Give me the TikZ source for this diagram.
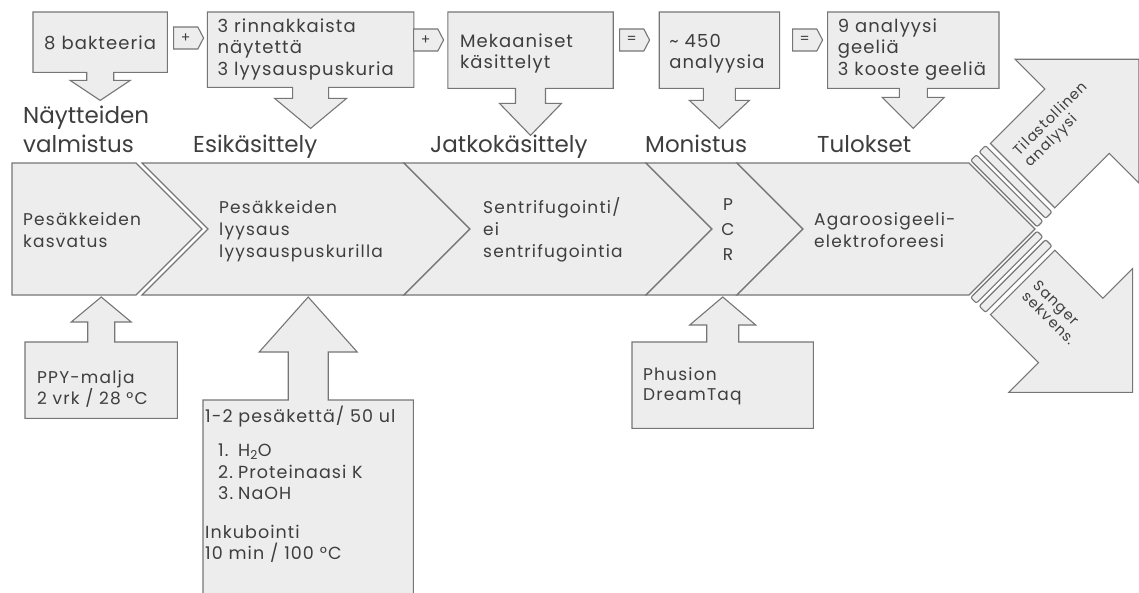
\documentclass[tikz,border=0pt]{standalone}
\usepackage{fontspec}
\setmainfont{Poppins}
\newfontfamily\boxfont{Poppins}[LetterSpace=6]
\newfontfamily\stagefont{Poppins}[LetterSpace=7]
\usetikzlibrary{shapes.symbols, positioning, calc, backgrounds}
\lefthyphenmin=62

\definecolor{panelfill}{RGB}{237,237,237}
\definecolor{panelline}{RGB}{118,118,118}
\definecolor{inktext}{RGB}{62,62,62}

\tikzset{
    infobox/.style={rectangle, draw=none, inner xsep=12pt, inner ysep=0pt, align=left, text width=#1, font=\boxfont\fontsize{18}{21.5}\selectfont, text=inktext},
    calloutline/.style={fill=panelfill, draw=panelline, line width=1.1pt},
    stagebody/.style={fill=panelfill, draw=panelline, line width=1.1pt, line join=miter},
    stagetext/.style={anchor=base west, align=left, inner sep=0pt, font=\stagefont\fontsize{17}{22}\selectfont, text=inktext},
    phaselabel/.style={anchor=base west, align=left, inner sep=0pt, font=\fontsize{23}{29}\selectfont, text=inktext},
    joiner/.style={signal, signal to=east, signal pointer angle=125, fill=panelfill, draw=panelline, line width=1.1pt, minimum width=30pt, minimum height=22pt, inner sep=0pt, font=\fontsize{14}{14}\selectfont, text=inktext},
    stripe/.style={fill=panelfill, draw=panelline, line width=1.1pt, rounded corners=2pt},
    outarrow/.style={fill=panelfill, draw=panelline, line width=1.1pt},
    outlabel/.style={align=left, inner sep=0pt, font=\stagefont\fontsize{14.5}{16}\selectfont, text=inktext}
}

% box merged with a block arrow: box, side, far side, shaft half, head half, shaft length, head length
\newcommand{\blockcallout}[7]{%
    \path[calloutline] (#1.#2 west) -- (#1.#3 west) -- (#1.#3 east) -- (#1.#2 east)
        -- ($(#1.#2)+(#4,0)$) -- ++(0,#6) -- ++({#5-#4},0) -- ++({-#5},#7)
        -- ++({-#5},{-(#7)}) -- ++({#5-#4},0) -- ++(0,{-(#6)}) -- cycle;}

\begin{document}
\begin{tikzpicture}[x=1pt, y=-1pt]
\path[use as bounding box] (0,0) rectangle (1139,592);

% process band
\draw[stagebody] (12,163) -- (136,163) -- ++(66,66) -- (136,295) -- (12,295) -- cycle;
\foreach \l/\r in {142/404, 404/646, 646/737, 737/969}
    \draw[stagebody] (\l,163) -- (\r,163) -- ++(66,66) -- (\r,295) -- (\l,295) -- ++(66,-66) -- cycle;

% outcome arrows
\begin{scope}[shift={(1035,229)}, rotate=45]
    \foreach \a/\b in {3/11, 15/24}
        \draw[stripe] (\a,-94) rectangle (\b,0);
    \draw[outarrow] (29,-92) -- (106,-92) -- (106,-134) -- (193.5,-46.5) -- (106,41) -- (106,-1) -- (29,-1) -- cycle;
    \node[outlabel, rotate=45] (astat) at (89,-58) {Tilastollinen\\analyysi};
\end{scope}
\begin{scope}[shift={(1035,229)}, rotate=-45, yscale=-1]
    \foreach \a/\b in {3/11, 15/24}
        \draw[stripe] (\a,-94) rectangle (\b,0);
    \draw[outarrow] (29,-92) -- (97,-92) -- (97,-134) -- (184.5,-46.5) -- (97,41) -- (97,-1) -- (29,-1) -- cycle;
    \node[outlabel, rotate=-45] (aseq) at (73,-45) {Sanger\\sekvens.};
\end{scope}

\node[stagetext] (sgrow) at (23,247) {Pesäkkeiden\\kasvatus};
\node[stagetext] (slyse) at (219,257) {Pesäkkeiden\\lyysaus\\lyysauspuskurilla};
\node[stagetext] (scent) at (483,257) {Sentrifugointi/\\ei\\sentrifugointia};
\node[stagetext, anchor=center, align=center, font=\stagefont\fontsize{17}{25}\selectfont] (spcr) at (728,230) {P\\C\\R};
\node[stagetext] (sgel) at (814,247) {Agaroosigeeli-\\elektroforeesi};

% inputs above the band
\node[infobox=112pt, inner xsep=11pt, text height=37pt, text depth=23pt, anchor=north west] (isample) at (33,12) {8 bakteeria};
\node[infobox=186pt, inner xsep=10pt, text height=20pt, text depth=55pt, right=40pt of isample.north east, anchor=north west] (ipre) {3 rinnakkaista\\näytettä\\3 lyysauspuskuria};
\node[infobox=141pt, text height=35pt, text depth=41pt, right=34pt of ipre.north east, anchor=north west] (ipost) {Mekaaniset\\käsittelyt};
\node[infobox=100pt, inner xsep=10pt, text height=35pt, text depth=41pt, right=46pt of ipost.north east, anchor=north west] (iamp) {\textasciitilde\ 450\\analyysia};
\node[infobox=151pt, inner xsep=10pt, text height=20pt, text depth=56pt, right=48pt of iamp.north east, anchor=north west] (ires) {9 analyysi\\geeliä\\3 kooste geeliä};

\node[joiner, anchor=west] (j1) at (173,38) {+};
\node[joiner, anchor=west] (j2) at (413,40) {+};
\node[joiner, anchor=west] (j3) at (619,40) {=};
\node[joiner, anchor=west] (j4) at (792,40) {=};

\node[phaselabel] (hsample) at (23,152) {Näytteiden\\valmistus};
\node[phaselabel] (hpre) at (193,152) {Esikäsittely};
\node[phaselabel] (hpost) at (430,152) {Jatkokäsittely};
\node[phaselabel] (hamp) at (645,152) {Monistus};
\node[phaselabel] (hres) at (817,152) {Tulokset};

% conditions below the band
\node[infobox=128pt, text height=41pt, text depth=35pt, anchor=north west, font=\stagefont\fontsize{17}{19}\selectfont] (cplate) at (25,342) {PPY-malja\\2 vrk / 28 °C};
\node[infobox=206pt, inner xsep=2pt, text height=22pt, text depth=200pt, anchor=north west, font=\boxfont\fontsize{17.5}{21.5}\selectfont] (clysis) at (203,400)
    {1-2 pesäkettä/ 50 ul\\[13pt]
     \hspace*{13pt}\makebox[20pt][l]{1.}H\textsubscript{2}O\\
     \hspace*{13pt}\makebox[20pt][l]{2.}Proteinaasi K\\
     \hspace*{13pt}\makebox[20pt][l]{3.}NaOH\\[17pt]
     Inkubointi\\
     10 min / 100 °C};
\node[infobox=159pt, inner xsep=11pt, text height=38pt, text depth=48pt, anchor=north west, font=\stagefont\fontsize{17}{20}\selectfont] (cpoly) at (632,342) {Phusion\\DreamTaq};

\begin{scope}[on background layer]
    \fill[white] (0,0) rectangle (1139,592);
    \blockcallout{isample}{south}{north}{13.5}{30}{8}{20}
    \blockcallout{ipre}{south}{north}{18}{36}{11}{30}
    \blockcallout{ipost}{south}{north}{15}{31}{15}{32}
    \blockcallout{iamp}{south}{north}{16}{30}{12}{28}
    \blockcallout{ires}{south}{north}{14}{31}{9}{31}
    \blockcallout{cplate}{north}{south}{13.5}{30}{-20}{-25}
    \blockcallout{clysis}{north}{south}{20}{49}{-48}{-55}
    \blockcallout{cpoly}{north}{south}{16}{33}{-17}{-28}
\end{scope}

\end{tikzpicture}
\end{document}
